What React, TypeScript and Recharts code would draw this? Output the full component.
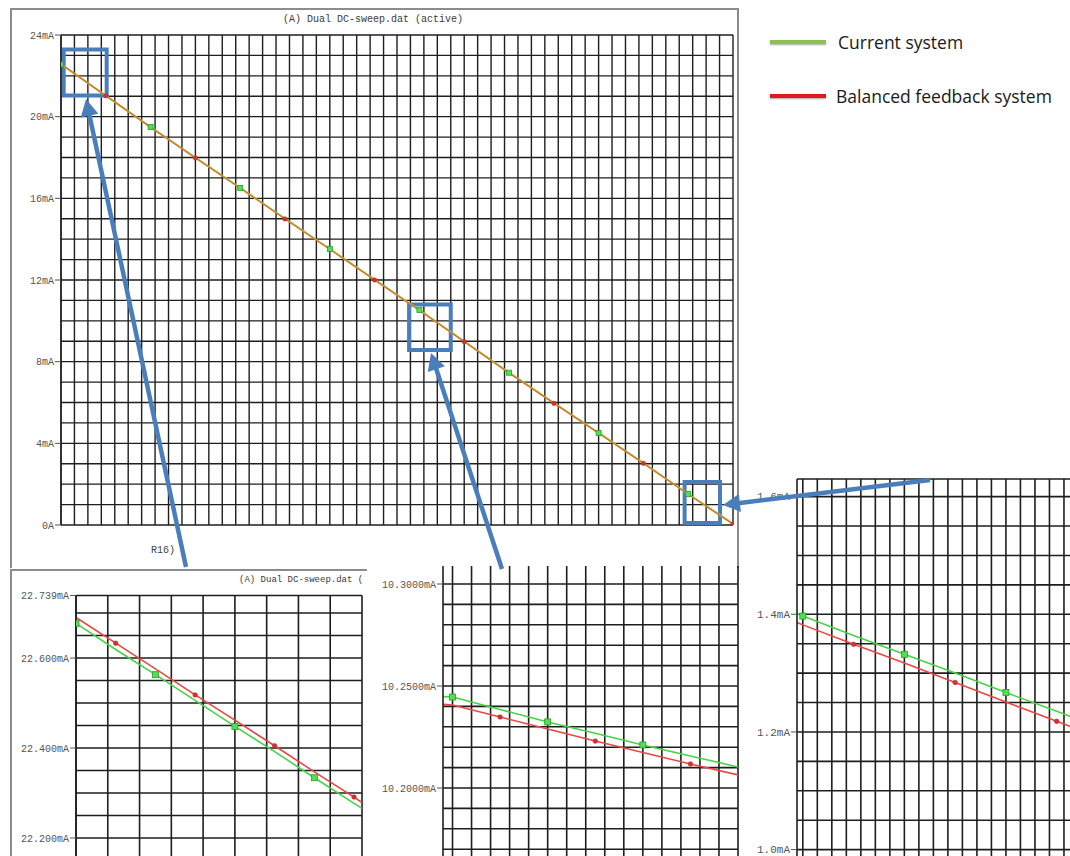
import React from 'react';
import { LineChart, Line, XAxis, YAxis, CartesianGrid, ReferenceArea, Legend } from 'recharts';

// ---------- full sweep ----------
const mainSweep = [0, 1, 2, 3, 4, 5, 6, 7, 8, 9, 10, 11, 12, 13, 14, 15];
const mainCurrent = [22.56, 21.03, 19.49, 18.0, 16.51, 15.01, 13.52, 12.02, 10.53, 9.0, 7.46, 5.98, 4.51, 3.03, 1.52, 0.06];
const mainBalanced = [22.58, 21.02, 19.48, 17.98, 16.5, 14.99, 13.5, 12.0, 10.51, 8.98, 7.44, 5.96, 4.49, 3.02, 1.5, 0.04];
const mainCurrentMarks = [0, 2, 4, 6, 8, 10, 12, 14];
const mainBalancedMarks = [1, 3, 5, 7, 9, 11, 13, 15];
const mainYLabels = [24, 20, 16, 12, 8, 4, 0];
const mainYLabelText = ['24mA', '20mA', '16mA', '12mA', '8mA', '4mA', '0A'];

// highlighted regions (sweep units / mA)
const zoomX1 = [0.06, 7.77, 13.92];
const zoomX2 = [1.02, 8.7, 14.71];
const zoomY1 = [21.04, 8.57, 0.1];
const zoomY2 = [23.29, 10.8, 2.11];

// ---------- zoom 1: start of sweep ----------
const z1Sweep = [0, 5, 10, 15, 20, 25, 30, 35, 36];
const z1Current = [22.677, 22.619, 22.563, 22.506, 22.448, 22.392, 22.334, 22.277, 22.266];
const z1Balanced = [22.69, 22.633, 22.576, 22.518, 22.462, 22.405, 22.347, 22.291, 22.279];
const z1CurrentMarks = [0, 10, 20, 30];
const z1BalancedMarks = [5, 15, 25, 35];
const z1YLabels = [22.739, 22.6, 22.4, 22.2];

// ---------- zoom 2: middle of sweep ----------
const z2Sweep = [-0.5, 0, 2.5, 5, 7.5, 10, 12.5, 15];
const z2Current = [10.2448, 10.2446, 10.2385, 10.2324, 10.2268, 10.2211, 10.2157, 10.2103];
const z2Balanced = [10.241, 10.2407, 10.2348, 10.2289, 10.223, 10.2174, 10.2118, 10.2064];
const z2CurrentMarks = [0, 5, 10];
const z2BalancedMarks = [2.5, 7.5, 12.5];
const z2YLabels = [10.3, 10.25, 10.2];

// ---------- zoom 3: end of sweep ----------
const z3Sweep = [-0.4, 0, 3.5, 7, 10.5, 14, 17.5, 21, 22];
const z3Current = [1.401, 1.397, 1.364, 1.332, 1.3, 1.267, 1.235, 1.203, 1.194];
const z3Balanced = [1.386, 1.382, 1.349, 1.317, 1.284, 1.251, 1.218, 1.185, 1.176];
const z3CurrentMarks = [0, 7, 14, 21];
const z3BalancedMarks = [3.5, 10.5, 17.5];
const z3YLabels = [1.6, 1.4, 1.2, 1.0];

const seriesNames = { current: 'Current system', balanced: 'Balanced feedback system' };
const legendOrder = ['current', 'balanced'];
const traceTitle = '(A) Dual DC-sweep.dat (active)';
const traceTitleShort = '(A) Dual DC-sweep.dat (';

const GREEN = '#46d446';
const RED = '#ec4646';
const BLUE = '#4a7ebb';
const GRID = '#1e1e1e';
const MONO = '"Liberation Mono", "DejaVu Sans Mono", monospace';

const range = (from: number, to: number, step: number) => {
  const out: number[] = [];
  const n = Math.round((to - from) / step);
  for (let i = 0; i <= n; i++) out.push(Number((from + i * step).toFixed(6)));
  return out;
};

const toRows = (xs: number[], a: number[], b: number[]) =>
  xs.map((x, i) => ({ x, current: a[i], balanced: b[i] }));

const has = (list: number[], v: number) => list.some((l) => Math.abs(l - v) < 1e-6);

const squareDot = (marks: number[], size: number) => (p: any) => {
  const { cx, cy, payload, index } = p;
  if (cx == null || cy == null || !has(marks, payload.x)) return <g key={`g${index}`} />;
  return (
    <rect key={`g${index}`} x={cx - size / 2} y={cy - size / 2} width={size} height={size}
      fill="#52e052" stroke="#2c9c2c" strokeWidth={0.8} />
  );
};

const roundDot = (marks: number[], r: number) => (p: any) => {
  const { cx, cy, payload, index } = p;
  if (cx == null || cy == null || !has(marks, payload.x)) return <g key={`r${index}`} />;
  return <circle key={`r${index}`} cx={cx} cy={cy} r={r} fill="#d83030" stroke="#b02020" strokeWidth={0.5} />;
};

const makeYTick = (labels: number[], fmt: (v: number) => string, fontSize: number) => (props: any) => {
  const { x, y, payload } = props;
  const v = payload.value;
  if (!has(labels, v)) return <g />;
  return (
    <g>
      <line x1={x} x2={x + 6} y1={y} y2={y} stroke="#555" strokeWidth={1} />
      <text x={x - 1} y={y} dy="0.35em" textAnchor="end" fontFamily={MONO} fontSize={fontSize} fill="#555">
        {fmt(v)}
      </text>
    </g>
  );
};

const emptyTick = () => <g />;

const legendSwatch: Record<string, string> = { current: '#8cc152', balanced: '#e0191d' };

const LegendBlock = (props: any) => {
  const payload = (props.payload || []).slice().sort(
    (a: any, b: any) => legendOrder.indexOf(a.dataKey) - legendOrder.indexOf(b.dataKey));
  return (
    <div style={{ fontFamily: '"Open Sans", sans-serif', fontSize: 17.5, color: '#1a1a1a' }}>
      {payload.map((e: any, i: number) => (
        <div key={i} style={{ display: 'flex', alignItems: 'center', height: 30, marginBottom: i === 0 ? 24 : 0 }}>
          <span style={{ display: 'inline-block', width: 56, height: 4, background: legendSwatch[e.dataKey],
            boxShadow: '0 1px 2px rgba(0,0,0,0.35)', marginRight: i === 0 ? 12 : 10 }} />
          <span style={{ whiteSpace: 'nowrap' }}>{e.value}</span>
        </div>
      ))}
    </div>
  );
};

type PanelProps = {
  rows: any[];
  width: number;
  height: number;
  margin: { top: number; right: number; bottom: number; left: number };
  yAxisWidth: number;
  xDomain: [number, number];
  xTicks: number[];
  yDomain: [number, number];
  yTicks: number[];
  yLabels: number[];
  yFormat: (v: number) => string;
  fontSize: number;
  currentMarks: number[];
  balancedMarks: number[];
};

const ZoomPanel = (p: PanelProps) => (
  <LineChart width={p.width} height={p.height} data={p.rows} margin={p.margin}>
    <CartesianGrid stroke={GRID} strokeWidth={1.6} verticalValues={p.xTicks} horizontalValues={p.yTicks} />
    <XAxis dataKey="x" type="number" domain={p.xDomain} ticks={p.xTicks} interval={0}
      allowDataOverflow tick={emptyTick} tickLine={false} axisLine={false} height={1} />
    <YAxis type="number" domain={p.yDomain} ticks={p.yTicks} interval={0} allowDataOverflow
      width={p.yAxisWidth} tickSize={6} tickMargin={0} tickLine={false}
      axisLine={{ stroke: GRID, strokeWidth: 1.6 }}
      tick={makeYTick(p.yLabels, p.yFormat, p.fontSize)} />
    <Line dataKey="current" type="linear" stroke={GREEN} strokeWidth={1.6} isAnimationActive={false}
      dot={squareDot(p.currentMarks, 6)} activeDot={false} />
    <Line dataKey="balanced" type="linear" stroke={RED} strokeWidth={1.6} isAnimationActive={false}
      dot={roundDot(p.balancedMarks, 2.3)} activeDot={false} />
  </LineChart>
);

// arrow annotation geometry (page pixels)
const arrows: { from: [number, number]; to: [number, number] }[] = [
  { from: [186, 567], to: [86, 99] },
  { from: [502, 569], to: [431, 353] },
  { from: [930, 480], to: [723, 505] },
];

const Arrow = ({ from, to }: { from: [number, number]; to: [number, number] }) => {
  const [x0, y0] = from;
  const [x1, y1] = to;
  const dx = x1 - x0;
  const dy = y1 - y0;
  const len = Math.hypot(dx, dy);
  const ux = dx / len;
  const uy = dy / len;
  const head = 17;
  const half = 9;
  const bx = x1 - ux * head;
  const by = y1 - uy * head;
  const pts = `${x1},${y1} ${bx - uy * half},${by + ux * half} ${bx + uy * half},${by - ux * half}`;
  return (
    <g>
      <line x1={x0} y1={y0} x2={bx + ux * 2} y2={by + uy * 2} stroke={BLUE} strokeWidth={4.5} />
      <polygon points={pts} fill={BLUE} />
    </g>
  );
};

export default function App() {
  const mainRows = toRows(mainSweep, mainCurrent, mainBalanced);
  const mainLabelOf = (v: number) => mainYLabelText[mainYLabels.indexOf(v)];
  const mainXTicks = range(0, 15, 0.3);
  const mainYTicks = range(0, 24, 1);

  return (
    <div style={{ position: 'absolute', left: 0, top: 0, width: 1070, height: 856, overflow: 'hidden', background: '#fff' }}>
      {/* main trace window frame */}
      <div style={{ position: 'absolute', left: 10, top: 8, width: 729, height: 560, boxSizing: 'border-box',
        borderTop: '2px solid #8c8c8c', borderLeft: '2px solid #8c8c8c', borderRight: '2px solid #8c8c8c' }} />
      <div style={{ position: 'absolute', left: 283, top: 14, fontFamily: MONO, fontSize: 10, color: '#3a3a3a', whiteSpace: 'pre' }}>
        {traceTitle}
      </div>
      <div style={{ position: 'absolute', left: 151, top: 545, fontFamily: MONO, fontSize: 10, color: '#444' }}>R16)</div>

      <div style={{ position: 'absolute', left: 10, top: 8 }}>
        <LineChart width={1060} height={560} data={mainRows} margin={{ top: 27, right: 337, bottom: 42, left: 0 }}>
          <CartesianGrid stroke={GRID} strokeWidth={1.4} verticalValues={mainXTicks} horizontalValues={mainYTicks} />
          <XAxis dataKey="x" type="number" domain={[0, 15]} ticks={mainXTicks} interval={0}
            allowDataOverflow tick={emptyTick} tickLine={false} axisLine={false} height={1} />
          <YAxis type="number" domain={[0, 24]} ticks={mainYTicks} interval={0} allowDataOverflow
            width={51} tickSize={6} tickMargin={0} tickLine={false}
            axisLine={{ stroke: GRID, strokeWidth: 1.4 }}
            tick={makeYTick(mainYLabels, mainLabelOf, 10)} />
          <Line name={seriesNames.current} dataKey="current" type="linear" stroke="#86d048" strokeWidth={2}
            isAnimationActive={false} dot={squareDot(mainCurrentMarks, 5)} activeDot={false} />
          <Line name={seriesNames.balanced} dataKey="balanced" type="linear" stroke="#f0662e" strokeWidth={1.2}
            isAnimationActive={false} dot={roundDot(mainBalancedMarks, 2.2)} activeDot={false} />
          {zoomX1.map((x1, i) => (
            <ReferenceArea key={i} x1={x1} x2={zoomX2[i]} y1={zoomY1[i]} y2={zoomY2[i]}
              fill="none" stroke={BLUE} strokeWidth={4} ifOverflow="visible" />
          ))}
          <Legend layout="vertical" align="center" verticalAlign="middle" content={<LegendBlock />}
            wrapperStyle={{ position: 'absolute', left: 760, top: 19, width: 300, height: 90 }} />
        </LineChart>
      </div>

      {/* zoom 1 */}
      <div style={{ position: 'absolute', left: 10, top: 569, width: 357, height: 287, overflow: 'hidden' }}>
        <div style={{ position: 'absolute', left: 0, top: 0, width: 357, height: 287, boxSizing: 'border-box',
          borderTop: '2px solid #8c8c8c', borderLeft: '2px solid #8c8c8c' }} />
        <div style={{ position: 'absolute', left: 229, top: 6, fontFamily: MONO, fontSize: 9, color: '#3a3a3a', whiteSpace: 'pre' }}>
          {traceTitleShort}
        </div>
        <div style={{ position: 'absolute', left: 0, top: 0 }}>
          <ZoomPanel rows={toRows(z1Sweep, z1Current, z1Balanced)} width={360} height={370}
            margin={{ top: 26.5, right: 8, bottom: 10, left: 0 }} yAxisWidth={66}
            xDomain={[0, 36]} xTicks={range(0, 36, 4)}
            yDomain={[22.0, 22.739]} yTicks={[...range(22.0, 22.7, 0.05), 22.739]}
            yLabels={z1YLabels} yFormat={(v) => `${v.toFixed(3)}mA`} fontSize={10}
            currentMarks={z1CurrentMarks} balancedMarks={z1BalancedMarks} />
        </div>
      </div>

      {/* zoom 2 */}
      <div style={{ position: 'absolute', left: 378, top: 566, width: 362, height: 290, overflow: 'hidden' }}>
        <div style={{ position: 'absolute', left: 0, top: -26 }}>
          <ZoomPanel rows={toRows(z2Sweep, z2Current, z2Balanced)} width={362} height={361}
            margin={{ top: 23.6, right: 2, bottom: 10, left: 0 }} yAxisWidth={65}
            xDomain={[-0.5, 15]} xTicks={range(0, 15, 1)}
            yDomain={[10.15, 10.31]} yTicks={range(10.15, 10.31, 0.01)}
            yLabels={z2YLabels} yFormat={(v) => `${v.toFixed(4)}mA`} fontSize={10}
            currentMarks={z2CurrentMarks} balancedMarks={z2BalancedMarks} />
        </div>
      </div>

      {/* zoom 3 */}
      <div style={{ position: 'absolute', left: 740, top: 470, width: 330, height: 386, overflow: 'hidden' }}>
        <div style={{ position: 'absolute', left: 0, top: 0 }}>
          <ZoomPanel rows={toRows(z3Sweep, z3Current, z3Balanced)} width={387} height={420}
            margin={{ top: 9, right: 5, bottom: 10, left: 0 }} yAxisWidth={57}
            xDomain={[-0.4, 22]} xTicks={range(0, 22, 1)}
            yDomain={[0.95, 1.63]} yTicks={[...range(0.95, 1.6, 0.05), 1.63]}
            yLabels={z3YLabels} yFormat={(v) => `${v.toFixed(1)}mA`} fontSize={11}
            currentMarks={z3CurrentMarks} balancedMarks={z3BalancedMarks} />
        </div>
      </div>

      {/* callout arrows */}
      <svg width={1070} height={856} style={{ position: 'absolute', left: 0, top: 0, pointerEvents: 'none' }}>
        {arrows.map((a, i) => <Arrow key={i} from={a.from} to={a.to} />)}
      </svg>
    </div>
  );
}
